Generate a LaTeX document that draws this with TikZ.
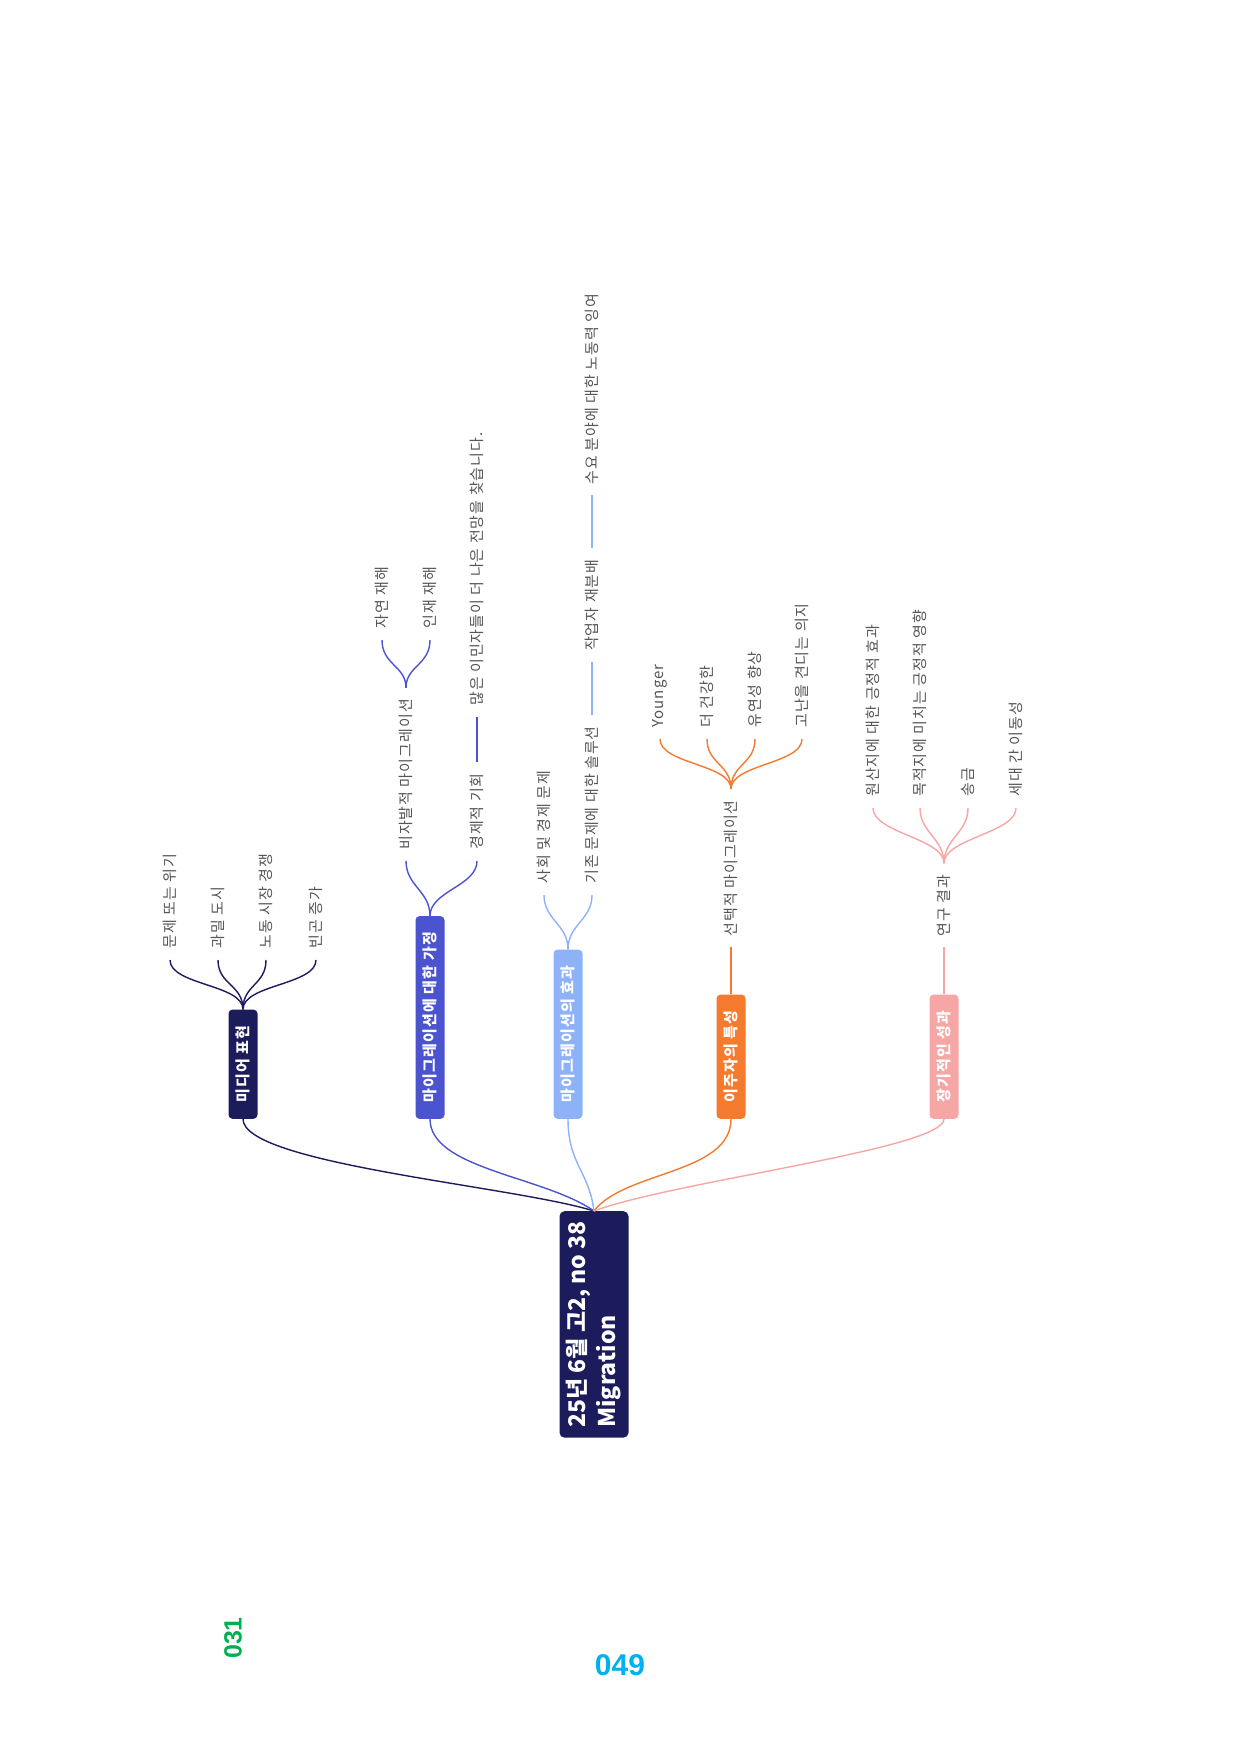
\documentclass[tikz,border=0pt]{standalone}
\usepackage{fontspec}
\setmainfont{Noto Sans CJK KR}
\newfontfamily\leaffont{Noto Sans CJK KR}[LetterSpace=7]
\newfontfamily\boxfont{Noto Sans CJK KR}[LetterSpace=8]
\newfontfamily\numfont{Liberation Sans}
\usetikzlibrary{calc}
\definecolor{navy}{HTML}{1C1B5B}
\definecolor{blueA}{HTML}{4B53CF}
\definecolor{blueB}{HTML}{8DB2F7}
\definecolor{orangeC}{HTML}{F47A2E}
\definecolor{pinkC}{HTML}{F6A6A4}
\definecolor{leafgray}{HTML}{555555}
\definecolor{green031}{HTML}{00B050}
\definecolor{blue049}{HTML}{00B0F0}
\begin{document}
\begin{tikzpicture}[x=1pt,y=-1pt,
  leaf/.style={rotate=90, anchor=west, inner xsep=11pt, inner ysep=2pt, text=leafgray, font=\leaffont\fontsize{15}{18}\selectfont},
  mainbox/.style={rotate=90, anchor=west, rounded corners=4pt, minimum height=29pt, inner xsep=16pt, inner ysep=0pt, text=white, font=\boxfont\bfseries\fontsize{15}{17}\selectfont},
  link/.style={line width=1.4pt},
]
\useasboundingbox (0,0) rectangle (1241,1755);

% root
\node[rotate=90, anchor=east, fill=navy, rounded corners=5pt, minimum width=224pt, minimum height=69pt, inner xsep=10pt, align=left, text=white, font=\bfseries\fontsize{23}{30}\selectfont] (root) at (594,1211) {25년 6월 고2, no 38\\Migration};

% main branches
\node[mainbox, fill=navy] (m1) at (243,1119) {미디어 표현};
\node[mainbox, fill=blueA] (m2) at (430,1119) {마이그레이션에 대한 가정};
\node[mainbox, fill=blueB] (m3) at (568,1119) {마이그레이션의 효과};
\node[mainbox, fill=orangeC] (m4) at (731,1119) {이주자의 특성};
\node[mainbox, fill=pinkC] (m5) at (944,1119) {장기적인 성과};

\draw[link, navy] (root.east) .. controls +(-80,-25) and +(0,45) .. (m1.west);
\draw[link, blueA] (root.east) .. controls +(-50,-35) and +(0,50) .. (m2.west);
\draw[link, blueB] (root.east) .. controls +(-5,-40) and +(0,45) .. (m3.west);
\draw[link, orangeC] (root.east) .. controls +(30,-40) and +(0,55) .. (m4.west);
\draw[link, pinkC] (root.east) .. controls +(80,-30) and +(0,30) .. (m5.west);

% media
\node[leaf] (a1) at (170,960) {문제 또는 위기};
\node[leaf] (a2) at (218,960) {과밀 도시};
\node[leaf] (a3) at (266,960) {노동 시장 경쟁};
\node[leaf] (a4) at (316,960) {빈곤 증가};
\foreach \n in {a1,a2,a3,a4}
  \draw[link, navy] (m1.east) .. controls +(0,-25) and +(0,25) .. (\n.west);

% assumptions
\node[leaf] (b1) at (406,861) {비자발적 마이그레이션};
\node[leaf] (b2) at (477,861) {경제적 기회};
\draw[link, blueA] (m2.east) .. controls +(0,-25) and +(0,25) .. (b1.west);
\draw[link, blueA] (m2.east) .. controls +(0,-25) and +(0,25) .. (b2.west);
\node[leaf] (b11) at (382,640) {자연 재해};
\node[leaf] (b12) at (430,640) {인재 재해};
\draw[link, blueA] (b1.east) .. controls +(0,-22) and +(0,25) .. (b11.west);
\draw[link, blueA] (b1.east) .. controls +(0,-22) and +(0,25) .. (b12.west);
\node[leaf] (b3) at ($(b2.east)+(0,-45)$) {많은 이민자들이 더 나은 전망을 찾습니다.};
\draw[link, blueA] (b2.east) -- (b3.west);

% effects
\node[leaf] (c1) at (544,895) {사회 및 경제 문제};
\node[leaf] (c2) at (592,895) {기존 문제에 대한 솔루션};
\draw[link, blueB] (m3.east) .. controls +(0,-25) and +(0,25) .. (c1.west);
\draw[link, blueB] (m3.east) .. controls +(0,-25) and +(0,25) .. (c2.west);
\node[leaf] (c3) at ($(c2.east)+(0,-53)$) {작업자 재분배};
\draw[link, blueB] (c2.east) -- (c3.west);
\node[leaf] (c4) at ($(c3.east)+(0,-53)$) {수요 분야에 대한 노동력 잉여};
\draw[link, blueB] (c3.east) -- (c4.west);

% characteristics
\node[leaf] (d0) at ($(m4.east)+(0,-47)$) {선택적 마이그레이션};
\draw[link, orangeC] (m4.east) -- (d0.west);
\node[leaf] (d1) at (660,739) {Younger};
\node[leaf] (d2) at (707,739) {더 건강한};
\node[leaf] (d3) at (755,739) {유연성 향상};
\node[leaf] (d4) at (802,739) {고난을 견디는 의지};
\foreach \n in {d1,d2,d3,d4}
  \draw[link, orangeC] (d0.east) .. controls +(0,-25) and +(0,25) .. (\n.west);

% outcomes
\node[leaf] (e0) at ($(m5.east)+(0,-47)$) {연구 결과};
\draw[link, pinkC] (m5.east) -- (e0.west);
\node[leaf] (e1) at (873,808) {원산지에 대한 긍정적 효과};
\node[leaf] (e2) at (920,808) {목적지에 미치는 긍정적 영향};
\node[leaf] (e3) at (968,808) {송금};
\node[leaf] (e4) at (1016,808) {세대 간 이동성};
\foreach \n in {e1,e2,e3,e4}
  \draw[link, pinkC] (e0.east) .. controls +(0,-25) and +(0,25) .. (\n.west);

% page numbers
\node[rotate=90, text=green031, inner sep=0pt, font=\numfont\bfseries\fontsize{25}{25}\selectfont] (p1) at (233,1638) {031};
\node[text=blue049, inner sep=0pt, font=\numfont\bfseries\fontsize{30}{30}\selectfont] (p2) at (620,1665) {049};
\end{tikzpicture}
\end{document}
